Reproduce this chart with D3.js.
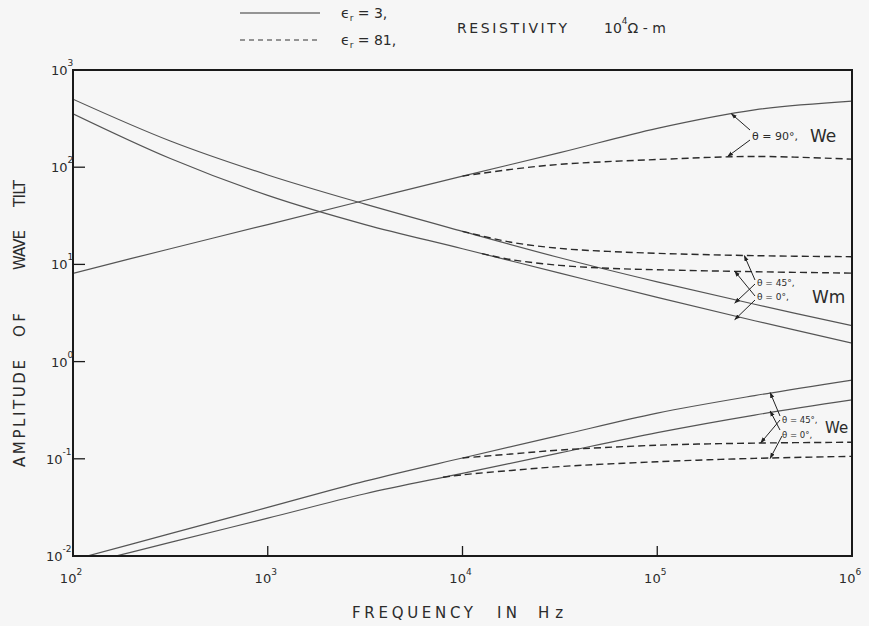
<!DOCTYPE html>
<html>
<head>
<meta charset="utf-8">
<script src="https://cdn.jsdelivr.net/npm/d3@7"></script>
<style>
  body { margin: 0; background: #f6f6f6; }
  text { font-family: "DejaVu Sans", sans-serif; fill: #2b2b2b; }
</style>
</head>
<body>
<svg id="chart" width="869" height="626"></svg>
<script>
// frequencies (Hz) where the solid curves were read
var freqFull = [100, 316, 1000, 3162, 10000, 31623, 100000, 316228, 1000000];

// epsilon_r = 3 (solid)
var we90Solid = [8.1, 14.5, 25.7, 45.7, 81, 141, 251, 389, 479];
var wm45Solid = [501, 186, 83.2, 41.7, 21.9, 11.7, 6.61, 3.89, 2.34];
var wm0Solid  = [355, 123, 51.3, 25.7, 14.5, 8.13, 4.57, 2.63, 1.55];
var we45Solid = [0.00912, 0.0170, 0.0316, 0.0589, 0.102, 0.174, 0.295, 0.447, 0.646];
var we0Solid  = [0.00776, 0.0138, 0.0245, 0.0437, 0.0708, 0.115, 0.186, 0.282, 0.403];

// epsilon_r = 81 (dashed), they split off the solid ones near 10^4 Hz
var freqWe90Dash = [10000, 17783, 31623, 100000, 316228, 1000000];
var we90Dash     = [81, 95, 107, 120, 129, 121];
var freqWm45Dash = [10000, 17783, 31623, 56234, 100000, 316228, 1000000];
var wm45Dash     = [21.9, 16.9, 14.6, 13.6, 13.0, 12.3, 12.0];
var freqWm0Dash  = [12589, 17783, 31623, 56234, 100000, 316228, 1000000];
var wm0Dash      = [12.9, 11.2, 9.77, 9.12, 8.81, 8.41, 8.13];
var freqWe45Dash = [10000, 17783, 31623, 100000, 316228, 1000000];
var we45Dash     = [0.102, 0.112, 0.123, 0.138, 0.145, 0.148];
var freqWe0Dash  = [7943, 10000, 17783, 31623, 100000, 316228, 1000000];
var we0Dash      = [0.0646, 0.0684, 0.0759, 0.0832, 0.0933, 0.101, 0.106];

// tick exponents
var xTickExp = [2, 3, 4, 5, 6];
var yTickExp = [3, 2, 1, 0, -1, -2];

var svg = d3.select('#chart');
var pLeft = 73, pRight = 852, pTop = 70, pBottom = 556;

var x = d3.scaleLog().domain([1e2, 1e6]).range([pLeft, pRight]);
var y = d3.scaleLog().domain([1e-2, 1e3]).range([pBottom, pTop]);

svg.append('rect').attr('width', 869).attr('height', 626).attr('fill', '#f6f6f6');

var defs = svg.append('defs');
defs.append('clipPath').attr('id', 'plot')
  .append('rect').attr('x', pLeft).attr('y', pTop)
  .attr('width', pRight - pLeft).attr('height', pBottom - pTop);

var arrow = defs.append('marker')
  .attr('id', 'arr').attr('viewBox', '0 0 10 10')
  .attr('refX', 9).attr('refY', 5)
  .attr('markerWidth', 6).attr('markerHeight', 6)
  .attr('markerUnits', 'userSpaceOnUse')
  .attr('orient', 'auto');
arrow.append('path').attr('d', 'M0,1.5 L10,5 L0,8.5 Z').attr('fill', '#222');

function pairs(fs, vs) {
  return fs.map(function (f, i) { return [f, vs[i]]; });
}

var line = d3.line()
  .x(function (d) { return x(d[0]); })
  .y(function (d) { return y(d[1]); })
  .curve(d3.curveCatmullRom.alpha(0.5));

var curves = [
  {f: freqFull, v: we90Solid, dash: false},
  {f: freqFull, v: wm45Solid, dash: false},
  {f: freqFull, v: wm0Solid, dash: false},
  {f: freqFull, v: we45Solid, dash: false},
  {f: freqFull, v: we0Solid, dash: false},
  {f: freqWe90Dash, v: we90Dash, dash: true},
  {f: freqWm45Dash, v: wm45Dash, dash: true},
  {f: freqWm0Dash, v: wm0Dash, dash: true},
  {f: freqWe45Dash, v: we45Dash, dash: true},
  {f: freqWe0Dash, v: we0Dash, dash: true}
];

var plot = svg.append('g').attr('clip-path', 'url(#plot)');
plot.selectAll('path.curve')
  .data(curves)
  .enter()
  .append('path')
  .attr('class', 'curve')
  .attr('d', function (d) { return line(pairs(d.f, d.v)); })
  .attr('fill', 'none')
  .attr('stroke', function (d) { return d.dash ? '#2a2a2a' : '#555'; })
  .attr('stroke-width', function (d) { return d.dash ? 1.4 : 1.2; })
  .attr('stroke-dasharray', function (d) { return d.dash ? '7,4' : null; });

// frame
svg.append('rect')
  .attr('x', pLeft).attr('y', pTop)
  .attr('width', pRight - pLeft).attr('height', pBottom - pTop)
  .attr('fill', 'none').attr('stroke', '#1a1a1a').attr('stroke-width', 2);

// ticks, drawn inward
svg.selectAll('line.xt').data(xTickExp.slice(1, -1)).enter().append('line')
  .attr('class', 'xt')
  .attr('x1', function (d) { return x(Math.pow(10, d)); })
  .attr('x2', function (d) { return x(Math.pow(10, d)); })
  .attr('y1', pBottom).attr('y2', pBottom - 10)
  .attr('stroke', '#1a1a1a').attr('stroke-width', 1.3);
svg.selectAll('line.yt').data(yTickExp.slice(1, -1)).enter().append('line')
  .attr('class', 'yt')
  .attr('y1', function (d) { return y(Math.pow(10, d)); })
  .attr('y2', function (d) { return y(Math.pow(10, d)); })
  .attr('x1', pLeft).attr('x2', pLeft + 12)
  .attr('stroke', '#1a1a1a').attr('stroke-width', 1.3);

// tick labels: "10" with a raised exponent
var xl = svg.selectAll('text.xl').data(xTickExp).enter().append('text')
  .attr('class', 'xl')
  .attr('x', function (d) { return x(Math.pow(10, d)) - 2; })
  .attr('y', 583)
  .attr('text-anchor', 'middle')
  .attr('font-size', 13);
xl.append('tspan').text('10');
xl.append('tspan').attr('dy', -8).attr('font-size', 9).text(function (d) { return d; });

var yl = svg.selectAll('text.yl').data(yTickExp).enter().append('text')
  .attr('class', 'yl')
  .attr('x', function (d) { return d < 0 ? 46 : 51; })
  .attr('y', function (d) { return y(Math.pow(10, d)) + 5; })
  .attr('font-size', 13);
yl.append('tspan').text('10');
yl.append('tspan').attr('dy', -9).attr('font-size', 9)
  .text(function (d) { return d < 0 ? '-' + (-d) : d; });

// axis titles, word by word
var xTitle = [
  {t: 'FREQUENCY', x: 352, w: 121},
  {t: 'IN', x: 497, w: 20},
  {t: 'Hz', x: 538, w: 25}
];
svg.selectAll('text.xtitle').data(xTitle).enter().append('text')
  .attr('class', 'xtitle')
  .attr('x', function (d) { return d.x; }).attr('y', 618)
  .attr('font-size', 15)
  .attr('textLength', function (d) { return d.w; }).attr('lengthAdjust', 'spacing')
  .text(function (d) { return d.t; });

var yTitle = [
  {t: 'AMPLITUDE', y: 467, w: 107},
  {t: 'OF', y: 337, w: 24},
  {t: 'WAVE', y: 270, w: 40},
  {t: 'TILT', y: 207, w: 27}
];
svg.selectAll('text.ytitle').data(yTitle).enter().append('text')
  .attr('class', 'ytitle')
  .attr('transform', function (d) { return 'translate(25,' + d.y + ') rotate(-90)'; })
  .attr('font-size', 15)
  .attr('textLength', function (d) { return d.w; }).attr('lengthAdjust', 'spacing')
  .text(function (d) { return d.t; });

// legend
svg.append('line').attr('x1', 240).attr('x2', 320).attr('y1', 13).attr('y2', 13)
  .attr('stroke', '#333').attr('stroke-width', 1.2);
svg.append('line').attr('x1', 240).attr('x2', 320).attr('y1', 40).attr('y2', 40)
  .attr('stroke', '#333').attr('stroke-width', 1.2).attr('stroke-dasharray', '5,4');
var l1 = svg.append('text').attr('x', 341).attr('y', 18).attr('font-size', 14).style('white-space', 'pre');
l1.append('tspan').text('ϵ');
l1.append('tspan').attr('font-size', 9).attr('dy', 3).text('r');
l1.append('tspan').attr('dy', -3).text(' = 3,');
var l2 = svg.append('text').attr('x', 341).attr('y', 45).attr('font-size', 14).style('white-space', 'pre');
l2.append('tspan').text('ϵ');
l2.append('tspan').attr('font-size', 9).attr('dy', 3).text('r');
l2.append('tspan').attr('dy', -3).text(' = 81,');
svg.append('text').attr('x', 457).attr('y', 33).attr('font-size', 14)
  .attr('textLength', 110).attr('lengthAdjust', 'spacing').text('RESISTIVITY');
var rs = svg.append('text').attr('x', 604).attr('y', 33).attr('font-size', 14).style('white-space', 'pre');
rs.append('tspan').text('10');
rs.append('tspan').attr('dy', -9).attr('font-size', 9).text('4');
rs.append('tspan').attr('dy', 9).text('Ω - m');

// annotations: label text and arrows to points on the curves
var notes = [
  {x: 752, y: 140, t: 'θ = 90°,', size: 11},
  {x: 810, y: 142, t: 'We', size: 17},
  {x: 757, y: 286, t: 'θ = 45°,', size: 9},
  {x: 757, y: 300, t: 'θ = 0°,', size: 9},
  {x: 812, y: 303, t: 'Wm', size: 17},
  {x: 782, y: 423, t: 'θ = 45°,', size: 8.5},
  {x: 782, y: 438, t: 'θ = 0°,', size: 8.5},
  {x: 825, y: 433, t: 'We', size: 15}
];
svg.selectAll('text.note').data(notes).enter().append('text')
  .attr('class', 'note')
  .attr('x', function (d) { return d.x; })
  .attr('y', function (d) { return d.y; })
  .attr('font-size', function (d) { return d.size; })
  .text(function (d) { return d.t; });

// start pixel -> [frequency, value] on a curve
var arrows = [
  {sx: 750, sy: 130, f: 240000, v: 355},
  {sx: 750, sy: 140, f: 230000, v: 129},
  {sx: 755, sy: 280, f: 280000, v: 12.3},
  {sx: 755, sy: 296, f: 250000, v: 8.5},
  {sx: 755, sy: 284, f: 250000, v: 4.0},
  {sx: 755, sy: 300, f: 250000, v: 2.7},
  {sx: 780, sy: 416, f: 380000, v: 0.48},
  {sx: 780, sy: 430, f: 380000, v: 0.31},
  {sx: 780, sy: 420, f: 340000, v: 0.146},
  {sx: 782, sy: 436, f: 380000, v: 0.101}
];
svg.selectAll('line.arrow').data(arrows).enter().append('line')
  .attr('class', 'arrow')
  .attr('x1', function (d) { return d.sx; })
  .attr('y1', function (d) { return d.sy; })
  .attr('x2', function (d) { return x(d.f); })
  .attr('y2', function (d) { return y(d.v); })
  .attr('stroke', '#222').attr('stroke-width', 1)
  .attr('marker-end', 'url(#arr)');
</script>
</body>
</html>
